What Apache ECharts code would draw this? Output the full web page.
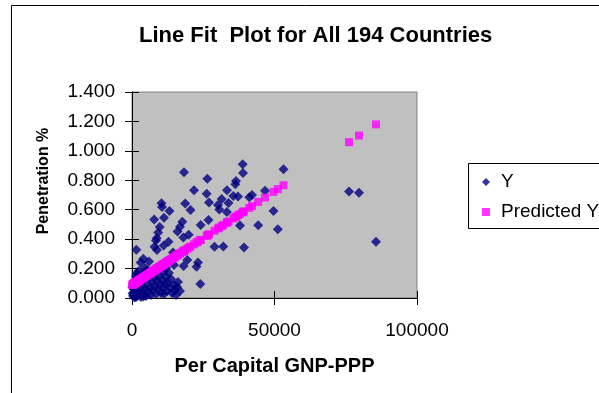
<!DOCTYPE html>
<html><head><meta charset="utf-8">
<script src="https://cdn.jsdelivr.net/npm/echarts@6/dist/echarts.min.js"></script>
<style>html,body{margin:0;padding:0;background:#fff}#c{width:599px;height:393px}</style>
</head><body><div id="c"></div>
<script>
// Per capita GNP-PPP (x), observed penetration (Y) and fitted value (Predicted Y)
const gnp = [
38840,53160,38950,18250,26420,36490,36250,21760,26210,33340,31480,35550,37200,42110,41160,46670,33860,27020,30180,30630,
10350,10530,13160,18670,20530,33300,49650,7790,11230,17650,26840,24110,37900,44280,51160,9720,9190,16840,15970,19900,
18000,8670,8420,12810,7900,8770,11120,1510,28950,32040,39300,14390,3970,3050,5970,19400,18100,23160,22630,14740,
23970,76150,79650,85620,200,1650,
350,700,1050,1400,1750,2110,2460,2810,3160,3510,3860,4210,4560,4910,5260,5610,5970,6320,6670,7020,
7370,7720,8070,8420,8770,9120,9470,9830,10180,10530,10880,11230,11580,11930,12280,12630,13330,13690,14040,14740,
15090,15790,16140,16840,15440,2110,3860,5260,6670,8070,9470,10880,700,1400,100,350,2460,4560,11930,12980,
500,900,1200,1900,2600,3300,600,4000,1600,2300
];
const penetration = [
0.909,0.875,0.850,0.855,0.811,0.795,0.773,0.732,0.708,0.732,0.673,0.693,0.690,0.700,0.685,0.729,0.646,0.649,0.632,0.602,
0.644,0.619,0.591,0.642,0.598,0.585,0.591,0.534,0.546,0.519,0.530,0.496,0.493,0.495,0.467,0.483,0.445,0.485,0.452,0.430,
0.411,0.406,0.391,0.383,0.349,0.326,0.357,0.328,0.349,0.350,0.343,0.309,0.267,0.241,0.248,0.258,0.218,0.241,0.213,0.224,
0.095,0.723,0.716,0.383,0.032,0.168,
0.014,0.034,0.054,0.007,0.075,0.027,0.102,0.048,0.007,0.082,0.034,0.122,0.061,0.014,0.095,0.041,0.136,0.068,0.020,0.109,
0.054,0.143,0.082,0.027,0.116,0.061,0.150,0.088,0.034,0.122,0.068,0.027,0.095,0.143,0.048,0.102,0.068,0.129,0.034,0.088,
0.054,0.075,0.109,0.048,0.020,0.129,0.163,0.190,0.177,0.190,0.204,0.177,0.116,0.150,0.075,0.095,0.184,0.204,0.204,0.170,
0.020,0.003,0.040,0.015,0.028,0.052,0.060,0.010,0.045,0.062
];
const predicted = [
0.583,0.766,0.585,0.321,0.425,0.553,0.550,0.365,0.422,0.513,0.489,0.541,0.562,0.625,0.613,0.683,0.520,0.433,0.473,0.479,
0.220,0.222,0.256,0.326,0.350,0.513,0.721,0.187,0.231,0.313,0.430,0.395,0.571,0.653,0.740,0.212,0.205,0.303,0.292,0.342,
0.318,0.199,0.195,0.251,0.189,0.200,0.230,0.107,0.457,0.497,0.589,0.272,0.139,0.127,0.164,0.335,0.319,0.383,0.377,0.276,
0.394,1.059,1.104,1.180,0.091,0.109,
0.092,0.097,0.101,0.106,0.110,0.115,0.119,0.124,0.128,0.133,0.137,0.142,0.146,0.151,0.155,0.160,0.164,0.169,0.173,0.178,
0.182,0.186,0.191,0.195,0.200,0.204,0.209,0.213,0.218,0.222,0.227,0.231,0.236,0.240,0.245,0.249,0.258,0.263,0.267,0.276,
0.280,0.289,0.294,0.303,0.285,0.115,0.137,0.155,0.173,0.191,0.209,0.227,0.097,0.106,0.089,0.092,0.119,0.146,0.240,0.254,
0.094,0.099,0.103,0.112,0.121,0.130,0.096,0.139,0.108,0.117
];
const seriesNames = ['Y', 'Predicted Y'];
const xMin = 0, xMax = 100000, xStep = 50000;
const yMin = 0, yMax = 1.4, yStep = 0.2;

const FONT = 'Liberation Sans, Arial, sans-serif';
const chart = echarts.init(document.getElementById('c'), null, {renderer: 'canvas'});
const obsData = gnp.map((x, i) => [x, penetration[i]]);
const predData = gnp.map((x, i) => [x, predicted[i]]);

const baseX = {type: 'value', min: xMin, max: xMax, interval: xStep, position: 'bottom', splitLine: {show: false}};
const baseY = {type: 'value', min: yMin, max: yMax, interval: yStep, position: 'left', splitLine: {show: false}};

chart.setOption({
  backgroundColor: '#fff',
  animation: false,
  textStyle: {fontFamily: FONT},
  title: {
    text: 'Line Fit  Plot for All 194 Countries',
    left: 134, top: 20,
    textStyle: {fontSize: 22, fontWeight: 'bold', color: '#000', fontFamily: FONT}
  },
  grid: {left: 132, top: 92, right: 182, bottom: 95, show: true,
    backgroundColor: '#C0C0C0', borderColor: '#808080', borderWidth: 1},
  legend: {
    orient: 'vertical', left: 477, top: 167, itemWidth: 8, itemHeight: 8, itemGap: 10,
    textStyle: {fontSize: 19, color: '#000', lineHeight: 20, fontFamily: FONT, padding: [0, 0, 0, 6]},
    data: [{name: seriesNames[0], icon: 'diamond'}, {name: seriesNames[1], icon: 'rect'}]
  },
  xAxis: [
    Object.assign({}, baseX, {
      axisLine: {show: true, lineStyle: {color: '#000', width: 1}},
      axisTick: {show: true, inside: false, length: 7, lineStyle: {color: '#000'}},
      axisLabel: {fontSize: 19, color: '#000', margin: 23, fontFamily: FONT, formatter: v => String(v)},
      name: 'Per Capital GNP-PPP', nameLocation: 'middle', nameGap: 58,
      nameTextStyle: {fontSize: 20, fontWeight: 'bold', color: '#000', fontFamily: FONT}
    }),
    Object.assign({}, baseX, {
      axisLine: {show: false},
      axisTick: {show: true, inside: true, length: 7, lineStyle: {color: '#000'}},
      axisLabel: {show: false}
    })
  ],
  yAxis: [
    Object.assign({}, baseY, {
      axisLine: {show: true, lineStyle: {color: '#000', width: 1}},
      axisTick: {show: true, inside: false, length: 7, lineStyle: {color: '#000'}},
      axisLabel: {fontSize: 19, color: '#000', margin: 17, fontFamily: FONT, formatter: v => v.toFixed(3)},
      name: 'Penetration %', nameLocation: 'middle', nameGap: 80,
      nameTextStyle: {fontSize: 16, fontWeight: 'bold', color: '#000', fontFamily: FONT, padding: [0, 0, 0, 28]}
    }),
    Object.assign({}, baseY, {
      axisLine: {show: false},
      axisTick: {show: true, inside: true, length: 7, lineStyle: {color: '#000'}},
      axisLabel: {show: false}
    })
  ],
  graphic: [
    {type: 'rect', silent: true, shape: {x: 11.5, y: 5.5, width: 700, height: 500},
      style: {fill: 'none', stroke: '#000', lineWidth: 1}},
    {type: 'rect', silent: true, shape: {x: 468.5, y: 163.5, width: 200, height: 65},
      style: {fill: 'none', stroke: '#000', lineWidth: 1}}
  ],
  series: [
    {name: seriesNames[0], type: 'scatter', xAxisIndex: 0, yAxisIndex: 0, symbol: 'diamond', symbolSize: 10,
      itemStyle: {color: '#000080'}, data: obsData},
    {name: seriesNames[1], type: 'scatter', xAxisIndex: 0, yAxisIndex: 0, symbol: 'rect', symbolSize: 8,
      itemStyle: {color: '#FF00FF'}, data: predData}
  ]
});
</script>
</body></html>
